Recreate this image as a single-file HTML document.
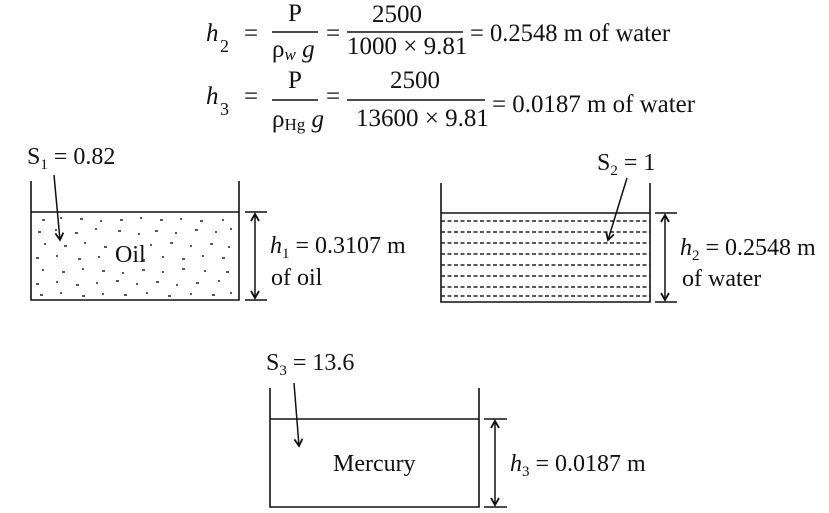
<!DOCTYPE html>
<html><head><meta charset="utf-8"><style>
html,body{margin:0;padding:0;background:#fff;}
svg{display:block;}
text{font-family:"Liberation Serif",serif;fill:#111;}
</style></head><body>
<svg width="829" height="513" viewBox="0 0 829 513" xmlns="http://www.w3.org/2000/svg">
<defs>
<marker id="ah" markerWidth="10" markerHeight="10" refX="8" refY="5" orient="auto-start-reverse" markerUnits="userSpaceOnUse">
<path d="M1,1 L8,5 L1,9" fill="none" stroke="#111" stroke-width="1.8"/>
</marker>
</defs>
<g font-size="25">
<!-- Row 1 -->
<text x="206" y="41" font-style="italic">h</text><text x="220" y="52" font-size="18">2</text>
<text x="244" y="41">=</text>
<text x="288" y="21">P</text>
<line x1="272" y1="32" x2="318" y2="32" stroke="#111" stroke-width="1.4"/>
<text x="272" y="57">ρ<tspan font-size="17" font-style="italic" dy="3">w</tspan><tspan font-style="italic" dy="-3"> g</tspan></text>
<text x="326" y="41">=</text>
<text x="372" y="22">2500</text>
<line x1="347" y1="32" x2="463" y2="32" stroke="#111" stroke-width="1.4"/>
<text x="347" y="54">1000 × 9.81</text>
<text x="470" y="41" textLength="200" lengthAdjust="spacingAndGlyphs">= 0.2548 m of water</text>
<!-- Row 2 -->
<text x="206" y="104" font-style="italic">h</text><text x="220" y="115" font-size="18">3</text>
<text x="244" y="104">=</text>
<text x="288" y="88">P</text>
<line x1="272" y1="100" x2="318" y2="100" stroke="#111" stroke-width="1.4"/>
<text x="272" y="127">ρ<tspan font-size="17" dy="3">Hg</tspan><tspan font-style="italic" dy="-3"> g</tspan></text>
<text x="326" y="104">=</text>
<text x="390" y="88">2500</text>
<line x1="347" y1="100" x2="485" y2="100" stroke="#111" stroke-width="1.4"/>
<text x="356" y="126">13600 × 9.81</text>
<text x="492" y="112" textLength="203" lengthAdjust="spacingAndGlyphs">= 0.0187 m of water</text>
</g>
<g font-size="24">
<!-- Oil tank -->
<text x="27" y="164">S<tspan font-size="15" dy="5">1</tspan><tspan dy="-5"> = 0.82</tspan></text>
<path d="M31,181 V300 H239 V181" fill="none" stroke="#111" stroke-width="1.6"/>
<line x1="31" y1="212" x2="239" y2="212" stroke="#111" stroke-width="1.6"/>
<line x1="54" y1="175" x2="60" y2="240" stroke="#111" stroke-width="1.5" marker-end="url(#ah)"/>
<g stroke="#222" stroke-width="1.4">
<path d="M42,220h3M60,218h2M80,219h3M100,221h2M120,220h3M140,218h2M160,220h3M180,219h2M200,221h3M222,220h2
M38,232h3M55,230h2M75,233h3M95,229h2M118,231h3M138,234h2M155,231h3M175,233h2M195,230h3M215,232h2M230,229h2
M44,244h2M64,246h3M84,243h2M104,247h3M150,245h2M170,243h3M190,246h2M210,244h3M228,247h2
M36,258h3M56,256h2M78,259h3M98,257h2M142,260h3M162,257h2M182,259h3M202,256h2M222,258h3
M42,270h2M62,272h3M82,269h2M102,271h3M122,273h2M142,270h3M162,272h2M182,269h3M204,271h2M226,272h3
M36,284h3M56,282h2M76,285h3M96,283h2M116,281h3M136,284h2M156,282h3M176,285h2M196,283h3M218,281h2
M40,295h3M60,293h2M82,296h3M102,294h2M124,295h3M146,293h2M168,296h3M190,294h2M212,295h3M230,293h2"/>
</g>
<text x="115" y="262">Oil</text>
<line x1="245" y1="212" x2="267" y2="212" stroke="#111" stroke-width="1.6"/>
<line x1="245" y1="300" x2="267" y2="300" stroke="#111" stroke-width="1.6"/>
<line x1="255" y1="214" x2="255" y2="298" stroke="#111" stroke-width="1.5" marker-start="url(#ah)" marker-end="url(#ah)"/>
<text x="270" y="253"><tspan font-style="italic">h</tspan><tspan font-size="15" dy="5">1</tspan><tspan dy="-5"> = 0.3107 m</tspan></text>
<text x="271" y="285">of oil</text>

<!-- Water tank -->
<text x="597" y="170">S<tspan font-size="15" dy="5">2</tspan><tspan dy="-5"> = 1</tspan></text>
<path d="M441,183 V302 H650 V183" fill="none" stroke="#111" stroke-width="1.6"/>
<line x1="441" y1="213" x2="650" y2="213" stroke="#111" stroke-width="1.6"/>
<g stroke="#222" stroke-width="1.5" stroke-dasharray="4,2.5">
<line x1="441" y1="221" x2="650" y2="221"/><line x1="441" y1="232" x2="650" y2="232"/>
<line x1="441" y1="243" x2="650" y2="243"/><line x1="441" y1="254" x2="650" y2="254"/>
<line x1="441" y1="265" x2="650" y2="265"/><line x1="441" y1="276" x2="650" y2="276"/>
<line x1="441" y1="287" x2="650" y2="287"/><line x1="441" y1="296" x2="650" y2="296"/>
</g>
<line x1="627" y1="178" x2="608" y2="240" stroke="#111" stroke-width="1.5" marker-end="url(#ah)"/>
<line x1="655" y1="213" x2="677" y2="213" stroke="#111" stroke-width="1.6"/>
<line x1="655" y1="302" x2="677" y2="302" stroke="#111" stroke-width="1.6"/>
<line x1="665" y1="215" x2="665" y2="300" stroke="#111" stroke-width="1.5" marker-start="url(#ah)" marker-end="url(#ah)"/>
<text x="680" y="255"><tspan font-style="italic">h</tspan><tspan font-size="15" dy="5">2</tspan><tspan dy="-5"> = 0.2548 m</tspan></text>
<text x="682" y="286">of water</text>

<!-- Mercury tank -->
<text x="266" y="370">S<tspan font-size="15" dy="5">3</tspan><tspan dy="-5"> = 13.6</tspan></text>
<path d="M270,388 V507 H479 V388" fill="none" stroke="#111" stroke-width="1.6"/>
<line x1="270" y1="419" x2="479" y2="419" stroke="#111" stroke-width="1.6"/>
<line x1="294" y1="383" x2="299" y2="446" stroke="#111" stroke-width="1.5" marker-end="url(#ah)"/>
<text x="333" y="471">Mercury</text>
<line x1="484" y1="419" x2="507" y2="419" stroke="#111" stroke-width="1.6"/>
<line x1="484" y1="507" x2="507" y2="507" stroke="#111" stroke-width="1.6"/>
<line x1="495" y1="421" x2="495" y2="505" stroke="#111" stroke-width="1.5" marker-start="url(#ah)" marker-end="url(#ah)"/>
<text x="510" y="471"><tspan font-style="italic">h</tspan><tspan font-size="15" dy="5">3</tspan><tspan dy="-5"> = 0.0187 m</tspan></text>
</g>
</svg>
</body></html>
